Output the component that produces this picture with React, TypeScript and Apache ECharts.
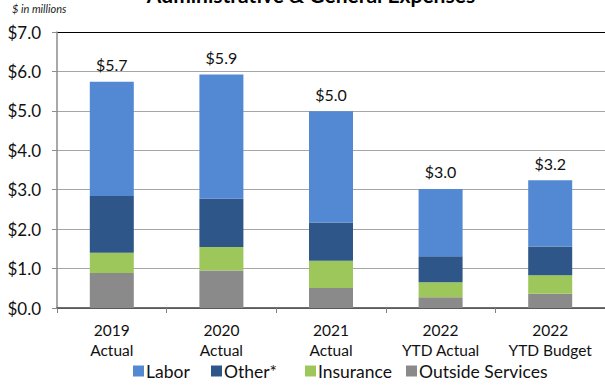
import React, { useEffect, useRef } from "react";
import * as echarts from "echarts";

const categories = ["2019\nActual", "2020\nActual", "2021\nActual", "2022\nYTD Actual", "2022\nYTD Budget"];
const outsideServices = [0.89, 0.95, 0.51, 0.27, 0.36];
const insurance = [0.51, 0.60, 0.69, 0.38, 0.47];
const other = [1.44, 1.22, 0.97, 0.66, 0.73];
const labor = [2.90, 3.15, 2.82, 1.71, 1.68];
const yTicks = [0, 1, 2, 3, 4, 5, 6, 7];
const legendNames = ["Labor", "Other*", "Insurance", "Outside Services"];

const FONT = "Lato";

export default function App() {
  const ref = useRef<HTMLDivElement>(null);
  useEffect(() => {
    if (!ref.current) return;
    const chart = echarts.init(ref.current, undefined, { renderer: "svg" });
    const totals = categories.map((_, i) => outsideServices[i] + insurance[i] + other[i] + labor[i]);
    const gridColors = yTicks.map((t) => (t === yTicks[yTicks.length - 1] ? "#000000" : "#A6A6A6"));
    const barW = 44;
    const legendLefts = [128, 206, 300, 401];
    chart.setOption({
      animation: false,
      backgroundColor: "#ffffff",
      textStyle: { fontFamily: FONT },
      graphic: [
        {
          type: "text",
          x: 311,
          y: -16,
          style: {
            text: "Administrative & General Expenses",
            font: `bold 21px ${FONT}`,
            fill: "#000",
            textAlign: "center",
          },
        },
        {
          type: "text",
          x: 12,
          y: 3,
          style: { text: "$ in millions", font: `italic 11px ${FONT}`, fill: "#222" },
        },
      ],
      legend: legendNames.map((name, i) => ({
        bottom: 3,
        left: legendLefts[i],
        itemWidth: 11,
        itemHeight: 11,
        icon: "rect",
        textStyle: { fontFamily: FONT, fontSize: 17.5, color: "#111", padding: [0, 0, 0, -3] },
        data: [name],
      })),
      grid: { left: 57, top: 32, width: 554, height: 276 },
      xAxis: {
        type: "category",
        data: categories,
        axisLine: { lineStyle: { color: "#404040", width: 1.5 } },
        axisTick: { show: true, length: 5, lineStyle: { color: "#808080" } },
        axisLabel: {
          color: "#111",
          fontSize: 15.5,
          fontFamily: FONT,
          margin: 12,
          lineHeight: 20,
          interval: 0,
          hideOverlap: false,
        },
      },
      yAxis: {
        type: "value",
        min: 0,
        max: 7,
        interval: 1,
        axisLine: { show: true, lineStyle: { color: "#8C8C8C", width: 1.5 } },
        axisTick: { show: true, length: 5, lineStyle: { color: "#8C8C8C" } },
        axisLabel: {
          color: "#111",
          fontSize: 17,
          fontFamily: FONT,
          margin: 16,
          formatter: (v: number) => "$" + v.toFixed(1),
        },
        splitLine: { show: true, lineStyle: { color: gridColors, width: 1.2 } },
      },
      series: [
        {
          name: "Outside Services",
          type: "bar",
          stack: "total",
          barWidth: barW,
          data: outsideServices,
          itemStyle: { color: "#8A8A8A" },
        },
        {
          name: "Insurance",
          type: "bar",
          stack: "total",
          barWidth: barW,
          data: insurance,
          itemStyle: { color: "#9DC75A" },
        },
        {
          name: "Other*",
          type: "bar",
          stack: "total",
          barWidth: barW,
          data: other,
          itemStyle: { color: "#2F5688" },
        },
        {
          name: "Labor",
          type: "bar",
          stack: "total",
          barWidth: barW,
          data: labor,
          itemStyle: { color: "#5289D2" },
          label: {
            show: true,
            position: "top",
            distance: 9,
            fontSize: 16,
            fontFamily: FONT,
            color: "#111",
            formatter: (p: any) => "$" + totals[p.dataIndex].toFixed(1),
          },
        },
      ],
    });
    return () => chart.dispose();
  }, []);
  return (
    <div
      ref={ref}
      style={{ position: "fixed", left: 0, top: 0, width: 605, height: 388, background: "#fff" }}
    />
  );
}
